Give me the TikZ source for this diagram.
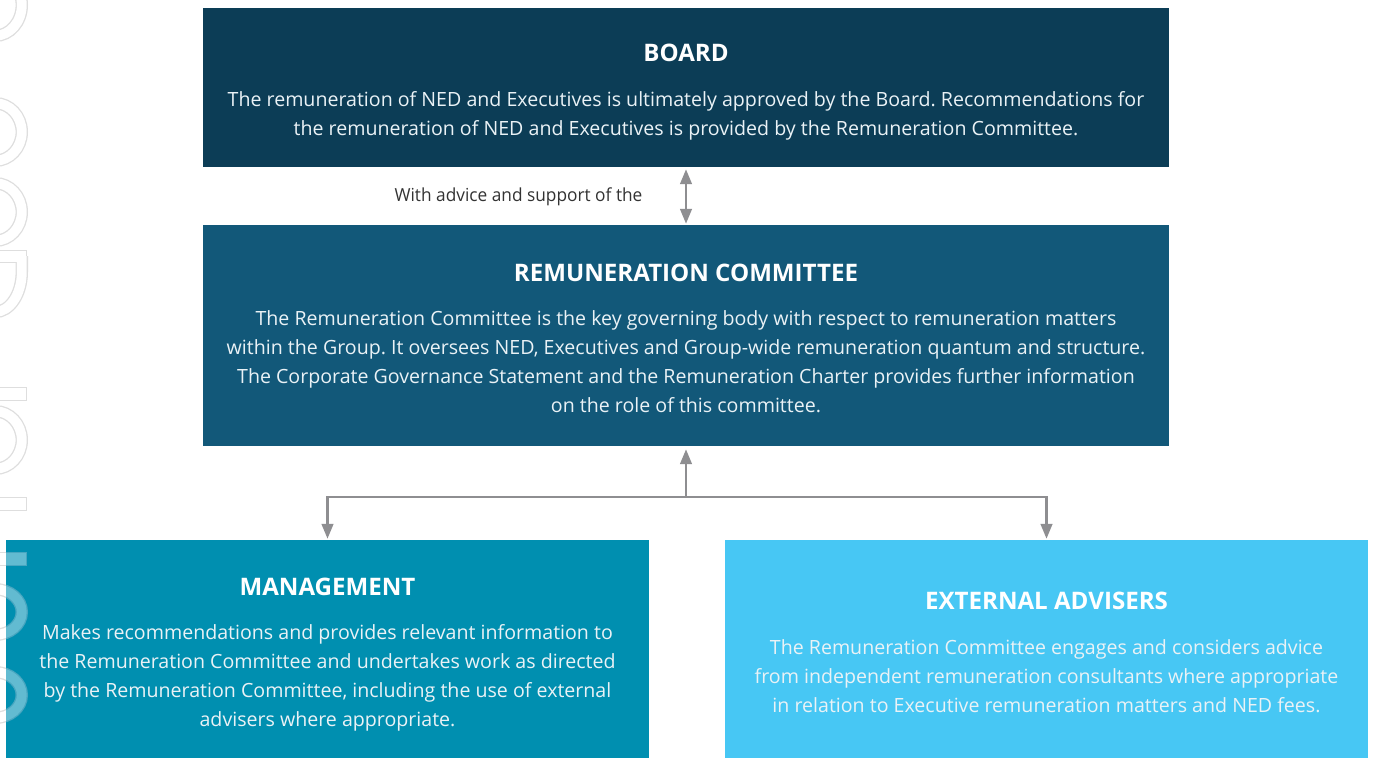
\documentclass[tikz,border=0pt]{standalone}
\usepackage{fontspec}
\setmainfont{Open Sans}
\newfontfamily\narrowfont[FakeStretch=0.96]{Open Sans}
\usetikzlibrary{arrows.meta}
\frenchspacing

\definecolor{cBoard}{HTML}{0C3D56}
\definecolor{cComm}{HTML}{125879}
\definecolor{cMgmt}{HTML}{008FB0}
\definecolor{cExt}{HTML}{47C7F4}
\definecolor{cArrow}{HTML}{8E8E91}
\definecolor{cNote}{HTML}{333333}
\definecolor{cBody}{HTML}{EAF2F6}
\definecolor{wmLineA}{HTML}{DEDEDE}
\definecolor{wmFillA}{HTML}{FFFFFF}
\definecolor{wmLineB}{HTML}{48A6C0}
\definecolor{wmFillB}{HTML}{62BBD1}

% outlined letter fragments along the left edge: #1 outline, #2 fill
\newcommand\edgeletters[2]{%
  \foreach \pass/\col/\w/\o in {0/#1/12.4/0, 1/#2/9.8/1.3} {
    \foreach \cy/\ry in {5/30.8, 132/28.8, 212/28.8, 440/28.8, 612/22.8, 695/22.8} {
      \draw[\col, line width=\w pt] (-5,\cy) ellipse [x radius=26.8, y radius=\ry];
    }
    \draw[\col, line width=\w pt] (21.8,256) -- (21.8,272)
      arc [start angle=0, end angle=90, x radius=26.8, y radius=40];
    \foreach \ya/\yb in {250/263, 387/401, 497/511, 552/566} {
      \fill[\col] (-10,\ya+\o) rectangle (27-\o,\yb-\o);
    }
  }%
}

\tikzset{
  box/.style={draw=none, rectangle, inner sep=0pt},
  title/.style={anchor=base, text=white, font=\fontsize{24.1}{29}\selectfont\bfseries},
  % anchor=base of a multi-line node sits on its last line
  body/.style={anchor=base, text=cBody, align=center,
    font=\fontsize{19.6}{29}\selectfont},
  conn/.style={draw=cArrow, line width=2.8pt,
    arrows={-Triangle[width=11.5pt,length=15pt]}},
}

\begin{document}
\begin{tikzpicture}[x=1pt,y=-1pt]
\useasboundingbox (0,0) rectangle (1373,758);
\fill[white] (0,0) rectangle (1373,758);

% faint outlined lettering on the white margin
\begin{scope}
  \edgeletters{wmLineA}{wmFillA}
\end{scope}

% boxes
\node[box, fill=cBoard, minimum width=966pt, minimum height=159pt] (board) at (686,87.5) {};
\node[box, fill=cComm, minimum width=966pt, minimum height=221pt] (rc) at (686,335.5) {};
\node[box, fill=cMgmt, minimum width=643pt, minimum height=218pt] (mgmt) at (327.5,649) {};
\node[box, fill=cExt, minimum width=643pt, minimum height=218pt] (ext) at (1046.5,649) {};

% lettering continues across the management box
\begin{scope}
  \clip (6,540) rectangle (649,758);
  \edgeletters{wmLineB}{wmFillB}
\end{scope}

% texts
\node[title] (boardT) at (686,61) {BOARD};
\node[body] (boardB) at (686,135) {The remuneration of NED and Executives is ultimately approved by the Board. Recommendations for\\
the remuneration of NED and Executives is provided by the Remuneration Committee.};

\node[anchor=base, text=cNote, font=\narrowfont\fontsize{18}{20}\selectfont] (note) at (518.5,201) {With advice and support of the};

\node[title] (rcT) at (686,281) {REMUNERATION COMMITTEE};
\node[body] (rcB) at (686,412) {The Remuneration Committee is the key governing body with respect to remuneration matters\\
within the Group. It oversees NED, Executives and Group-wide remuneration quantum and structure.\\
The Corporate Governance Statement and the Remuneration Charter provides further information\\
on the role of this committee.};

\node[title] (mgmtT) at (327.5,595) {MANAGEMENT};
\node[body] (mgmtB) at (327.5,726) {Makes recommendations and provides relevant information to\\
the Remuneration Committee and undertakes work as directed\\
by the Remuneration Committee, including the use of external\\
advisers where appropriate.};

\node[title] (extT) at (1046.5,609) {EXTERNAL ADVISERS};
\node[body] (extB) at (1046.5,712) {The Remuneration Committee engages and considers advice\\
from independent remuneration consultants where appropriate\\
in relation to Executive remuneration matters and NED fees.};

% connectors
\coordinate (hub) at (686,497);
\draw[conn, arrows={Triangle[width=11.5pt,length=15pt]-Triangle[width=11.5pt,length=15pt]},
  shorten <=2pt, shorten >=1pt] (board.south) -- (rc.north);
\draw[conn, shorten >=3pt] (hub) -- (rc.south);
\draw[conn, shorten >=1pt] (hub) -| (mgmt.north);
\draw[conn, shorten >=1pt] (hub) -| (ext.north);
\end{tikzpicture}
\end{document}
